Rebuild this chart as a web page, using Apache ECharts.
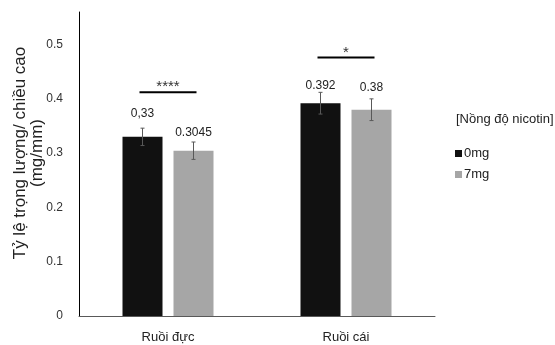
<!DOCTYPE html>
<html>
<head>
<meta charset="utf-8">
<script src="https://cdn.jsdelivr.net/npm/echarts@6/dist/echarts.min.js"></script>
<style>
  html, body { margin: 0; padding: 0; background: #fff; }
  #chart { width: 555px; height: 345px; }
</style>
</head>
<body>
<div id="chart"></div>
<script>
var categories = ['Ruồi đực', 'Ruồi cái'];
var seriesNames = ['0mg', '7mg'];
var values0mg = [0.33, 0.392];
var values7mg = [0.3045, 0.38];
var err0mg = [0.016, 0.02];
var err7mg = [0.016, 0.02];
var labels0mg = ['0,33', '0.392'];
var labels7mg = ['0.3045', '0.38'];
// significance bars: [category index, level, stars]
var sigMarks = [[0, 0.412, '****'], [1, 0.476, '*']];

var myChart = echarts.init(document.getElementById('chart'));

var BAR_W = 40, HALF_OFF = 25.5;

function errorData(vals, errs, side) {
  return vals.map(function (v, i) { return [i, v - errs[i], v + errs[i], side]; });
}

function renderErr(params, api) {
  var side = api.value(3);
  var lo = api.coord([api.value(0), api.value(1)]);
  var hi = api.coord([api.value(0), api.value(2)]);
  var x = lo[0] + side * HALF_OFF;
  var st = { stroke: '#595959', lineWidth: 1 };
  return {
    type: 'group',
    children: [
      { type: 'line', shape: { x1: x, y1: hi[1], x2: x, y2: lo[1] }, style: st },
      { type: 'line', shape: { x1: x - 2, y1: hi[1], x2: x + 2, y2: hi[1] }, style: st },
      { type: 'line', shape: { x1: x - 2, y1: lo[1], x2: x + 2, y2: lo[1] }, style: st }
    ]
  };
}

function renderSig(params, api) {
  var p = api.coord([api.value(0), api.value(1)]);
  var x1 = p[0] - HALF_OFF - 3, x2 = p[0] + HALF_OFF + 3;
  return {
    type: 'group',
    children: [
      { type: 'line', shape: { x1: x1, y1: p[1], x2: x2, y2: p[1] }, style: { stroke: '#000', lineWidth: 2 } },
      { type: 'text', style: { text: sigMarks[params.dataIndex][2], x: p[0], y: p[1] - 5,
          textAlign: 'center', textVerticalAlign: 'middle', fill: '#333',
          font: '15px "Liberation Sans", Arial, sans-serif' } }
    ]
  };
}

option = {
  animation: false,
  textStyle: { fontFamily: '"Liberation Sans", Arial, sans-serif' },
  title: {
    text: '[Nồng độ nicotin]',
    left: 451, top: 108,
    textStyle: { fontSize: 13, fontWeight: 'normal', color: '#222' }
  },
  legend: {
    data: seriesNames,
    orient: 'vertical',
    left: 450, top: 142,
    icon: 'rect', itemWidth: 7, itemHeight: 7, itemGap: 8,
    textStyle: { fontSize: 13, color: '#222', padding: [0, 0, 0, -3] }
  },
  graphic: [{
    type: 'text', x: 29, y: 153, rotation: Math.PI / 2,
    style: {
      text: 'Tỷ lệ trọng lượng/ chiều cao\n(mg/mm)', textAlign: 'center', textVerticalAlign: 'middle',
      font: '17px "Liberation Sans", Arial, sans-serif', fill: '#222', lineHeight: 17
    }
  }],
  grid: { left: 79, right: 120, top: 12, bottom: 29 },
  xAxis: {
    type: 'category', data: categories,
    axisLine: { lineStyle: { color: '#595959', width: 1 } },
    axisTick: { show: false },
    axisLabel: { fontSize: 13, color: '#222', margin: 15 }
  },
  yAxis: {
    type: 'value', min: 0, max: 0.56, interval: 0.1,
    splitLine: { show: false },
    axisLine: { show: true, lineStyle: { color: '#000', width: 1 } },
    axisTick: { show: false },
    axisLabel: { fontSize: 12, color: '#333', margin: 16, showMaxLabel: false,
      formatter: function (v) { return v === 0 ? '0' : v.toFixed(1); } }
  },
  series: [
    {
      name: '0mg', type: 'bar', barWidth: BAR_W, barGap: '27.5%',
      itemStyle: { color: '#111111' },
      data: values0mg.map(function (v, i) {
        return { value: v, label: { distance: [17, 12][i] } };
      }),
      label: { show: true, position: 'top', fontSize: 12, color: '#222',
        formatter: function (p) { return labels0mg[p.dataIndex]; } }
    },
    {
      name: '7mg', type: 'bar', barWidth: BAR_W,
      itemStyle: { color: '#a6a6a6' },
      data: values7mg.map(function (v, i) {
        return { value: v, label: { distance: [12, 16][i] } };
      }),
      label: { show: true, position: 'top', fontSize: 12, color: '#222',
        formatter: function (p) { return labels7mg[p.dataIndex]; } }
    },
    { type: 'custom', renderItem: renderErr, data: errorData(values0mg, err0mg, -1), z: 5 },
    { type: 'custom', renderItem: renderErr, data: errorData(values7mg, err7mg, 1), z: 5 },
    { type: 'custom', renderItem: renderSig, data: sigMarks.map(function (s) { return [s[0], s[1]]; }), z: 5 }
  ]
};
myChart.setOption(option);
</script>
</body>
</html>
